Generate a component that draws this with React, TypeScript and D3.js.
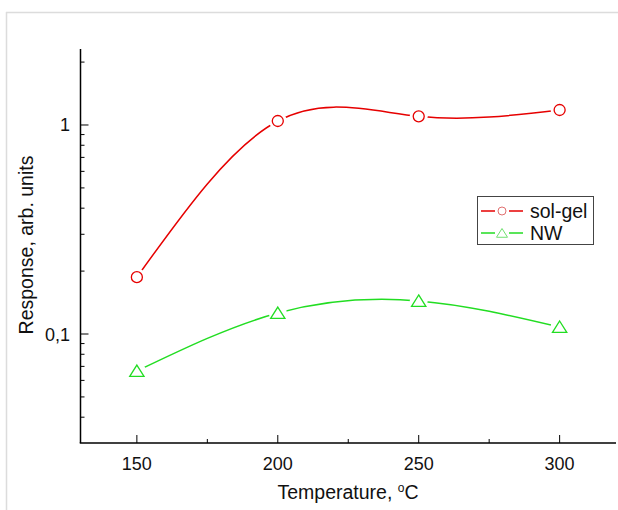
import React from "react";
import * as d3 from "d3";

const temperatures = [150, 200, 250, 300];
const solGel = [0.187, 1.045, 1.1, 1.18];
const nw = [0.0665, 0.126, 0.144, 0.108];
const xTicks = [150, 200, 250, 300];
const xMinorTicks = [175, 225, 275];
const yMajorTicks = [0.1, 1];
const yMinorTicks = [0.04, 0.05, 0.06, 0.07, 0.08, 0.09, 0.2, 0.3, 0.4, 0.5, 0.6, 0.7, 0.8, 0.9, 2];
const yTickLabels = ["0,1", "1"];

const W = 618;
const H = 510;
const FONT = "'Liberation Sans', Arial, sans-serif";
const RED = "#e60000";
const GREEN = "#22dd22";

export default function App() {
  const x = d3.scaleLinear().domain([130, 320]).range([80.5, 616]);
  const y = d3.scaleLog().domain([0.0301, 2.31]).range([443, 49]);
  const line = d3
    .line<[number, number]>()
    .x((d) => x(d[0]))
    .y((d) => y(d[1]))
    .curve(d3.curveNatural);

  const series = [
    { name: "sol-gel", values: solGel, color: RED, marker: "circle" },
    { name: "NW", values: nw, color: GREEN, marker: "triangle" },
  ];

  const tri = (cx: number, cy: number, r: number) =>
    `M${cx},${cy - r} L${cx + r * 1.1},${cy + r * 0.75} L${cx - r * 1.1},${cy + r * 0.75} Z`;

  const marker = (m: string, cx: number, cy: number, color: string, r: number, key: any) =>
    m === "circle" ? (
      <circle key={key} cx={cx} cy={cy} r={r} fill="white" stroke={color} strokeWidth={1.3} />
    ) : (
      <path key={key} d={tri(cx, cy + 0.5, r + 1)} fill="white" stroke={color} strokeWidth={1.3} />
    );

  const xAxisY = 443;
  const yAxisX = 80.5;

  return (
    <svg
      width={W}
      height={H}
      style={{ position: "absolute", left: 0, top: 0, background: "white" }}
      fontFamily={FONT}
    >
      <rect x={0} y={0} width={W} height={H} fill="white" />
      {/* page frame */}
      <line x1={6.5} y1={12} x2={6.5} y2={H} stroke="#dcdcdc" strokeWidth={1.5} />
      <line x1={6} y1={12.5} x2={W} y2={12.5} stroke="#dcdcdc" strokeWidth={1.5} />

      {/* axes */}
      <line x1={yAxisX} y1={49} x2={yAxisX} y2={xAxisY} stroke="#000" strokeWidth={1.5} />
      <line x1={yAxisX - 0.75} y1={xAxisY} x2={616} y2={xAxisY} stroke="#000" strokeWidth={1.5} />

      {/* x ticks */}
      {xTicks.map((t) => (
        <g key={"xt" + t}>
          <line x1={x(t)} y1={xAxisY} x2={x(t)} y2={xAxisY - 8} stroke="#000" strokeWidth={1} />
          <text x={x(t)} y={470} textAnchor="middle" fontSize={18} fill="#111">
            {t}
          </text>
        </g>
      ))}
      {xMinorTicks.map((t) => (
        <line key={"xm" + t} x1={x(t)} y1={xAxisY} x2={x(t)} y2={xAxisY - 4} stroke="#000" strokeWidth={1} />
      ))}

      {/* y ticks */}
      {yMajorTicks.map((t, i) => (
        <g key={"yt" + t}>
          <line x1={yAxisX} y1={y(t)} x2={yAxisX + 8} y2={y(t)} stroke="#000" strokeWidth={1} />
          <text x={70} y={y(t) + 6.5} textAnchor="end" fontSize={18} fill="#111">
            {yTickLabels[i]}
          </text>
        </g>
      ))}
      {yMinorTicks.map((t) => (
        <line key={"ym" + t} x1={yAxisX} y1={y(t)} x2={yAxisX + 4} y2={y(t)} stroke="#000" strokeWidth={1} />
      ))}

      {/* axis titles */}
      <text x={348} y={499} textAnchor="middle" fontSize={19.5} fill="#111">
        Temperature, <tspan dy={-7} fontSize={12}>o</tspan>
        <tspan dy={7}>C</tspan>
      </text>
      <text
        transform={`translate(33,${245}) rotate(-90)`}
        textAnchor="middle"
        fontSize={19.5}
        fill="#111"
      >
        Response, arb. units
      </text>

      {/* series */}
      {series.map((s) => {
        const pts = temperatures.map((t, i) => [t, s.values[i]] as [number, number]);
        return (
          <g key={s.name}>
            <path d={line(pts) || ""} fill="none" stroke={s.color} strokeWidth={1.5} />
            {pts.map((p, i) => (
              <circle key={"bg" + i} cx={x(p[0])} cy={y(p[1])} r={9} fill="white" />
            ))}
            {pts.map((p, i) => marker(s.marker, x(p[0]), y(p[1]), s.color, 5.5, i))}
          </g>
        );
      })}

      {/* legend */}
      <rect x={477.5} y={196.5} width={116} height={48} fill="white" stroke="#444" strokeWidth={1} />
      {series.map((s, i) => {
        const ly = 211 + i * 22;
        return (
          <g key={"lg" + s.name}>
            <line x1={481} y1={ly} x2={495} y2={ly} stroke={s.color} strokeWidth={1.5} />
            <line x1={509} y1={ly} x2={523} y2={ly} stroke={s.color} strokeWidth={1.5} />
            {s.marker === "circle" ? (
              <circle cx={502} cy={ly} r={4} fill="white" stroke="#e07070" strokeWidth={1} />
            ) : (
              <path d={tri(502, ly + 0.5, 5)} fill="white" stroke="#70e070" strokeWidth={1} />
            )}
            <text x={530} y={ly + 7} fontSize={19.5} fill="#111">
              {s.name}
            </text>
          </g>
        );
      })}
    </svg>
  );
}
